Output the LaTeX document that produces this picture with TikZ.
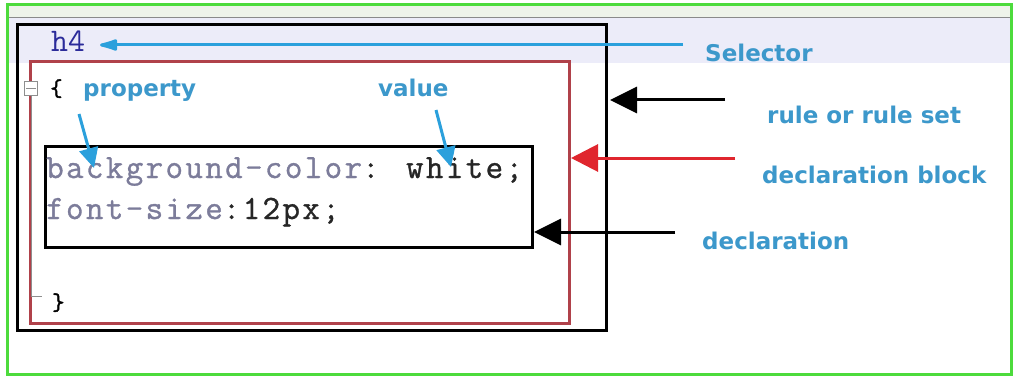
\documentclass[tikz,border=0pt]{standalone}
\usepackage{fontspec}
\setmainfont{DejaVu Sans}
\newfontfamily\codefont[LetterSpace=7,FakeBold=1]{Latin Modern Mono}
\newfontfamily\monofont{Latin Modern Mono}
\newfontfamily\bracefont[FakeBold=2]{Latin Modern Mono}
\newfontfamily\lblfont{DejaVu Sans}
\usetikzlibrary{arrows.meta}
\definecolor{lbl}{HTML}{3C98CB}
\definecolor{selblue}{HTML}{2BA0DC}
\definecolor{frame}{HTML}{4DDB3C}
\definecolor{band}{HTML}{ECECF9}
\definecolor{topband}{HTML}{EEF3EA}
\definecolor{topline}{HTML}{8A8A8A}
\definecolor{redbox}{HTML}{B0414A}
\definecolor{redarrow}{HTML}{E0262E}
\definecolor{prop}{HTML}{7C7C9A}
\definecolor{navy}{HTML}{2B2B9A}
\definecolor{tree}{HTML}{8E8E8E}
\tikzset{
  lab/.style={font=\lblfont\bfseries\fontsize{23}{26}\selectfont, text=lbl, inner sep=0pt, anchor=base west},
  code/.style={font=\codefont\fontsize{34}{38}\selectfont, inner sep=0pt, anchor=base west},
  box/.style={draw, inner sep=0pt, line width=3pt},
  blackarrow/.style={line width=3pt, -{Triangle[length=27pt,width=26pt]}},
  redarr/.style={line width=3pt, draw=redarrow, -{Triangle[length=27pt,width=27pt,fill=redarrow]}},
  bluearrow/.style={line width=3pt, draw=selblue, -{Triangle[length=20pt,width=19pt,fill=selblue]}},
}
\begin{document}
\begin{tikzpicture}[x=1pt,y=-1pt]
\useasboundingbox (0,0) rectangle (1016,377);
% editor background
\fill[white] (0,0) rectangle (1016,377);
\fill[topband] (8,6) rectangle (1010,17);
\fill[band] (8,18) rectangle (1010,63);
\draw[line width=1.5pt, topline] (8,17.5) -- (1010,17.5);
\draw[line width=3pt, frame] (7,5) rectangle (1011,374);

% boxes
\node[box, minimum width=589pt, minimum height=305pt] (outer) at (311.5,177.5) {};
\node[box, draw=redbox, line width=3pt, minimum width=539pt, minimum height=261pt] (block) at (299.5,192.5) {};
\node[box, fill=white, minimum width=487pt, minimum height=101pt] (decl) at (288.5,196.5) {};

% tree gutter
\node[draw=tree, fill=white, line width=1pt, minimum width=13pt, minimum height=14pt, inner sep=0pt] (fold) at (31,89) {};
\draw[tree, line width=1pt] ([xshift=2pt]fold.west) -- ([xshift=-2pt]fold.east);
\coordinate (treeend) at (42,296);
\draw[tree, line width=1pt] (fold.south) |- (treeend);

% code text
\node[font=\monofont\fontsize{33}{36}\selectfont, text=navy, inner sep=0pt, anchor=base west] (h4) at (51,52) {h4};
\node[font=\bracefont\fontsize{24}{26}\selectfont, inner sep=0pt, anchor=base west] (open) at (50,96) {\{};
\node[font=\bracefont\fontsize{24}{26}\selectfont, inner sep=0pt, anchor=base west] (close) at (52,310) {\}};
\node[code] (line1) at (46,178) {\textcolor{prop}{background-color}\textcolor{black!85}{: white;}};
\node[code] (line2) at (46,219) {\textcolor{prop}{font-size}\textcolor{black!85}{:12px;}};

% labels
\node[lab] (selector) at (705,62) {Selector};
\node[lab] (rule) at (767,124) {rule or rule set};
\node[lab] (dblock) at (762,183) {declaration block};
\node[lab] (dlabel) at (702,249) {declaration};
\node[lab] (property) at (83,97) {property};
\node[lab] (value) at (378,97) {value};

% connector end points
\coordinate (selstart) at (683,45);
\coordinate (seltip) at (100,45);
\coordinate (rulestart) at (725,100);
\coordinate (ruletip) at (610,100);
\coordinate (blockstart) at (735,158);
\coordinate (blocktip) at (571,158);
\coordinate (declstart) at (675,232);
\coordinate (decltip) at (534,232);
\coordinate (propstart) at (79,114);
\coordinate (proptip) at (94,168);
\coordinate (valstart) at (436,110);
\coordinate (valtip) at (451,167);

% connectors
\draw[line width=3pt, selblue, -{Latex[length=24pt,width=13pt,round]}] (selstart) -- (seltip);
\draw[blackarrow] (rulestart) -- (ruletip);
\draw[redarr] (blockstart) -- (blocktip);
\draw[blackarrow] (declstart) -- (decltip);
\draw[bluearrow] (propstart) -- (proptip);
\draw[bluearrow] (valstart) -- (valtip);
\end{tikzpicture}
\end{document}
